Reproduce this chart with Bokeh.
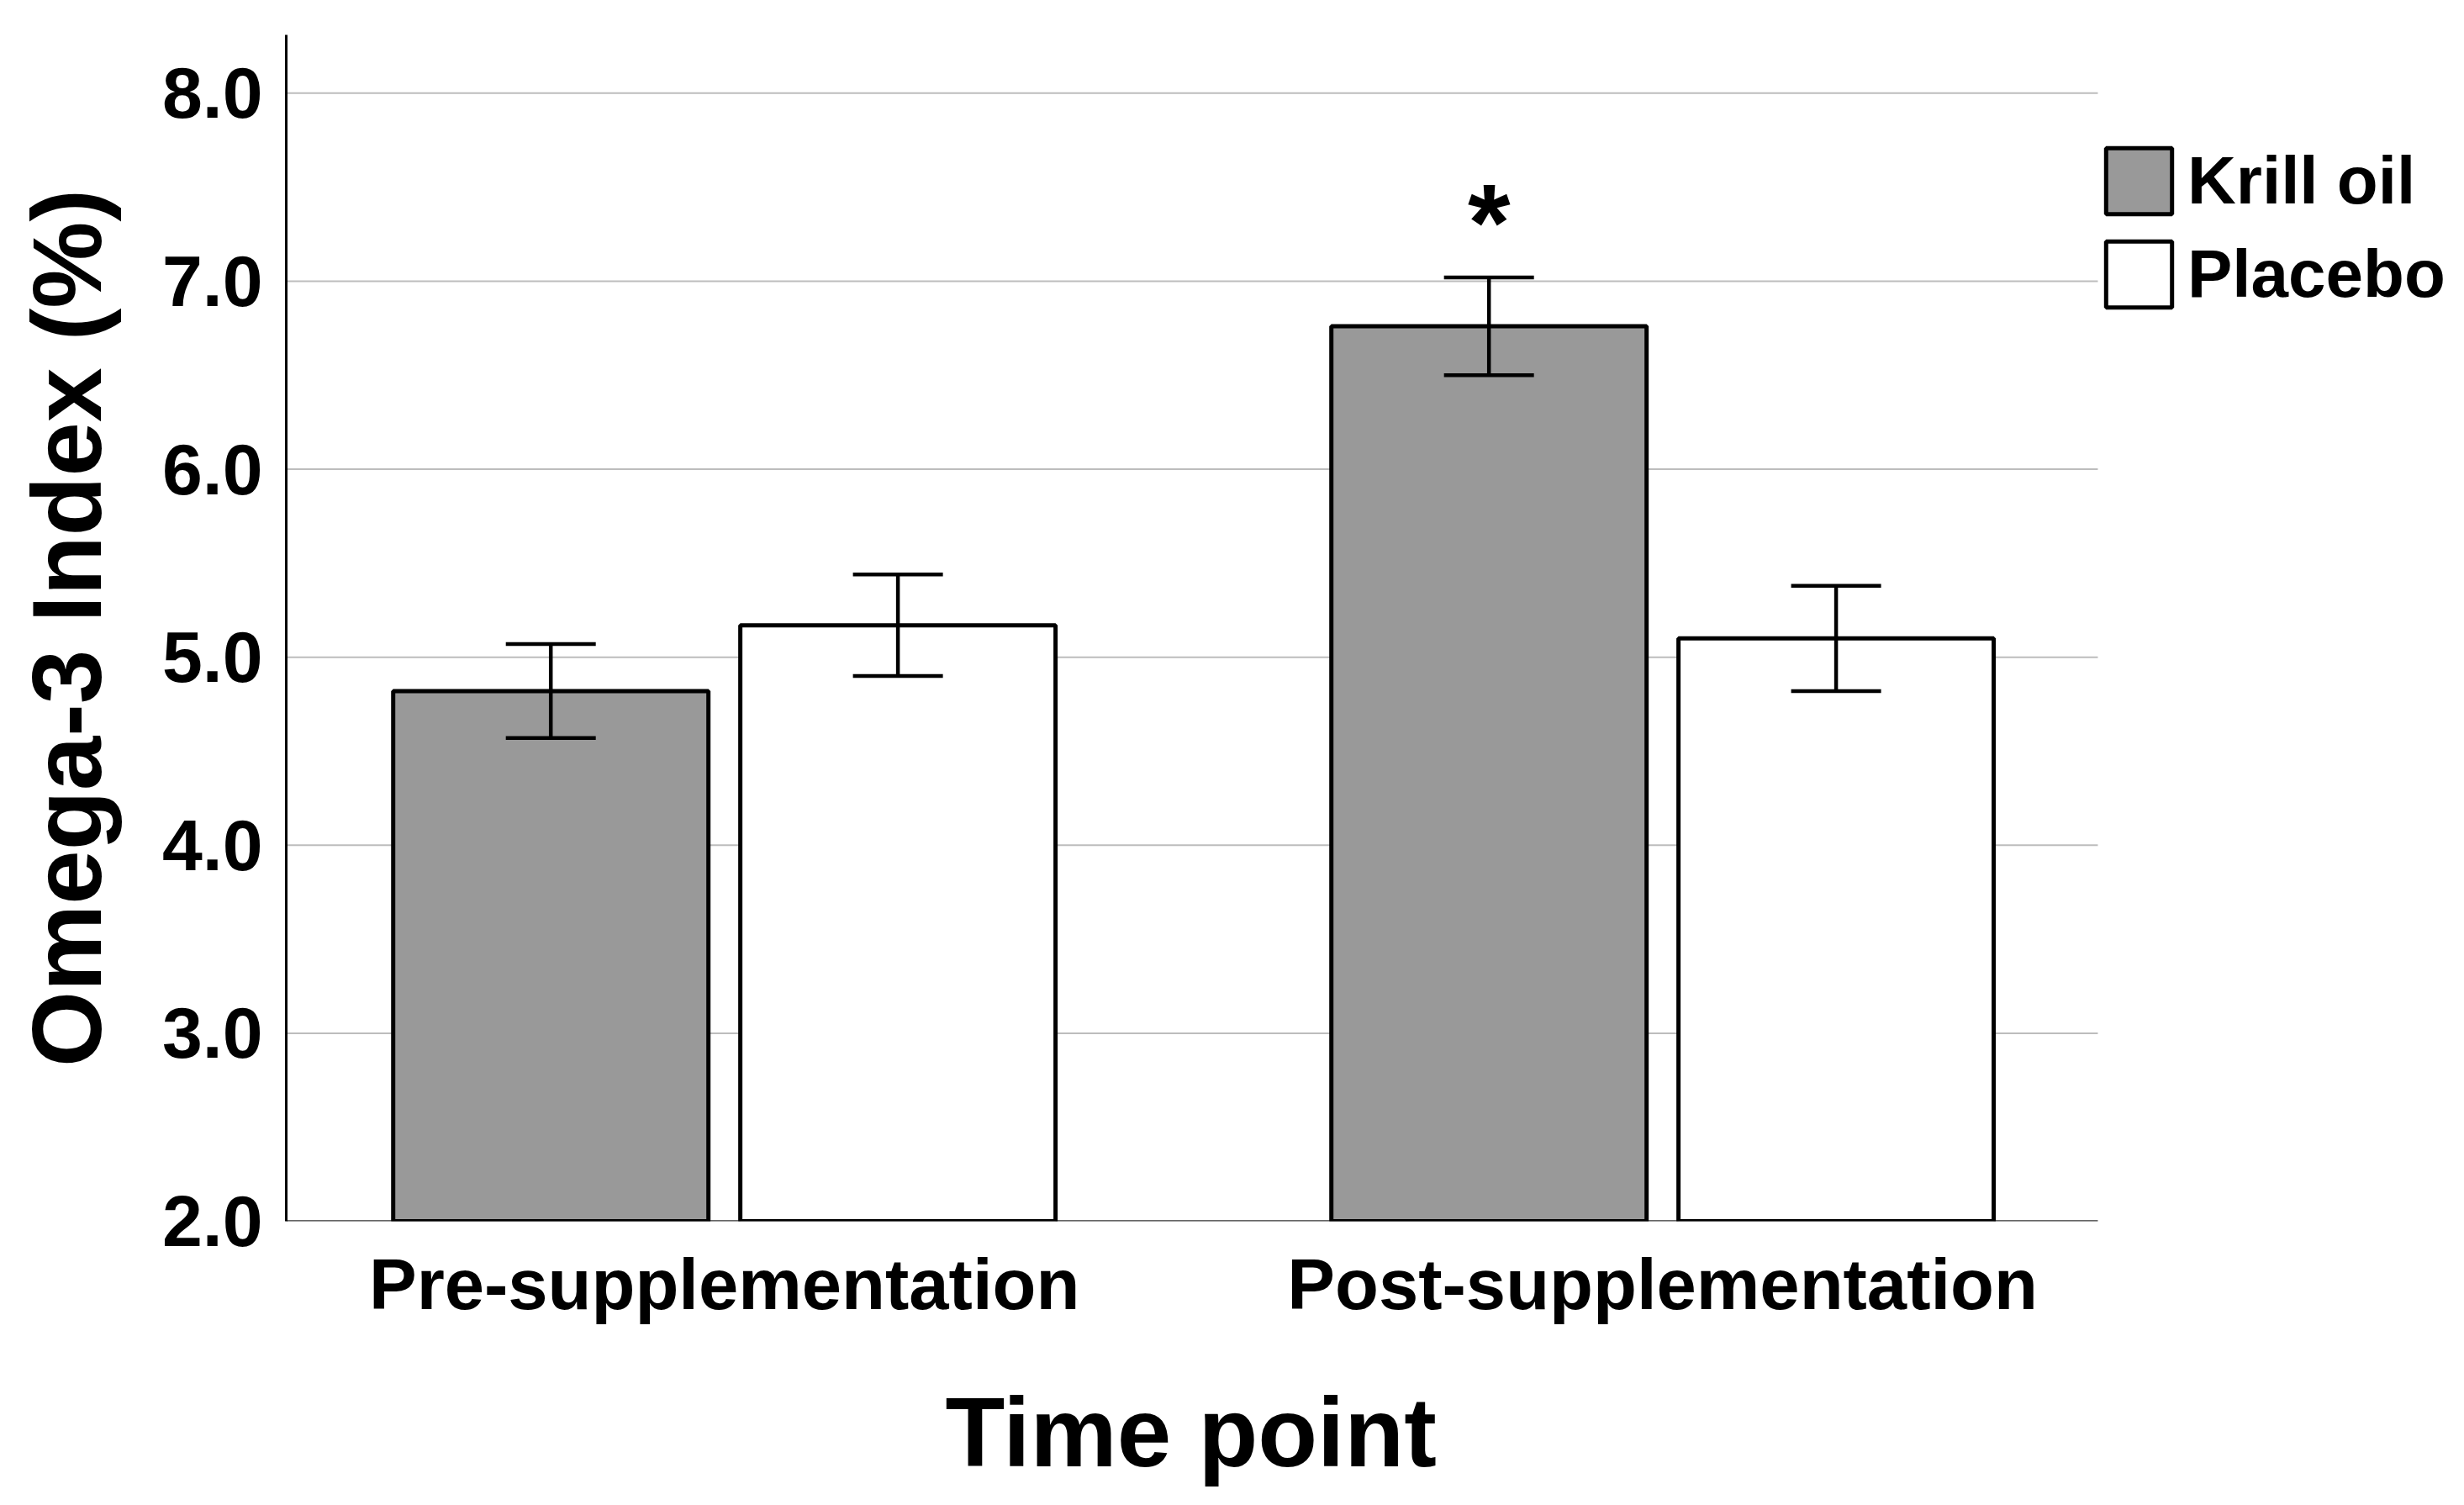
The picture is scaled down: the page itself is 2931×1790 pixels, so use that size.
from bokeh.plotting import figure
from bokeh.models import (Range1d, FixedTicker, NumeralTickFormatter, ColumnDataSource,
                          Whisker, TeeHead, Legend, LegendItem, Title)
from bokeh.transform import dodge
from bokeh.core.properties import value
from bokeh.embed import file_html
from bokeh.resources import INLINE

# ---- data ----
time_points = ["Pre-supplementation", "Post-supplementation"]
groups = ["Krill oil", "Placebo"]
krill_mean = [4.82, 6.76]
krill_sem = [0.25, 0.26]
placebo_mean = [5.17, 5.10]
placebo_sem = [0.27, 0.28]
significance = ["", "*"]
y_ticks = [2.0, 3.0, 4.0, 5.0, 6.0, 7.0, 8.0]
x_label = "Time point"
y_label = "Omega-3 Index (%)"

FONT = "Liberation Sans"
pos = list(range(len(time_points)))

# plotting area in x (group index units); the frame continues to the right for the legend
x_start, x_end, x_frame_end = -0.467, 1.464, 1.8404
y_start, y_end = 2.0, 8.31

src_k = ColumnDataSource(dict(
    x=pos, top=krill_mean,
    upper=[m + s for m, s in zip(krill_mean, krill_sem)],
    lower=[m - s for m, s in zip(krill_mean, krill_sem)],
    sig=significance))
src_p = ColumnDataSource(dict(
    x=pos, top=placebo_mean,
    upper=[m + s for m, s in zip(placebo_mean, placebo_sem)],
    lower=[m - s for m, s in zip(placebo_mean, placebo_sem)]))

p = figure(width=2915, height=1774, output_backend="svg", toolbar_location=None,
           x_range=Range1d(x_start, x_frame_end), y_range=Range1d(y_start, y_end),
           min_border_left=340, min_border_right=0, min_border_top=41,
           min_border_bottom=322)
p.outline_line_color = None
p.background_fill_color = "white"
p.border_fill_color = "white"

# grid lines only across the plotting area
p.xgrid.visible = False
p.ygrid.visible = False
grid_y = [t for t in y_ticks if t > y_start]
p.segment(x0=[x_start] * len(grid_y), x1=[x_end] * len(grid_y), y0=grid_y, y1=grid_y,
          line_color="#bdbdbd", line_width=2, level="underlay")
# x baseline
p.segment(x0=[x_start], x1=[x_end], y0=[y_start], y1=[y_start],
          line_color="#333333", line_width=2.5, level="underlay")

p.yaxis.ticker = FixedTicker(ticks=y_ticks)
p.yaxis.formatter = NumeralTickFormatter(format="0.0")
p.xaxis.ticker = FixedTicker(ticks=pos)
p.xaxis.major_label_overrides = {i: t for i, t in enumerate(time_points)}

for ax in (p.xaxis, p.yaxis):
    ax.major_tick_line_color = None
    ax.minor_tick_line_color = None
    ax.major_tick_out = 0
    ax.major_tick_in = 0
    ax.minor_tick_out = 0
    ax.major_label_text_font = FONT
    ax.major_label_text_font_style = "bold"
    ax.major_label_text_color = "black"

p.yaxis.major_label_text_font_size = "86px"
p.xaxis.major_label_text_font_size = "85px"
p.yaxis.axis_label = y_label
p.yaxis.axis_label_text_font = FONT
p.yaxis.axis_label_text_font_style = "bold"
p.yaxis.axis_label_text_font_size = "116px"
p.yaxis.axis_label_text_color = "black"
p.yaxis.axis_line_color = "black"
p.yaxis.axis_line_width = 3
p.xaxis.axis_line_color = None
p.yaxis.major_label_standoff = 28
p.xaxis.major_label_standoff = 27
p.yaxis.axis_label_standoff = 45
# blank spacer label under the category labels, pushes the title down
p.xaxis.axis_label = " "
p.xaxis.axis_label_text_font_size = "1px"
p.xaxis.axis_label_standoff = 55

# x axis title, centred under the plotting area
p.add_layout(Title(text=x_label, align="left", offset=784, standoff=0,
                   text_font=FONT, text_font_style="bold", text_font_size="116px",
                   text_color="black"), "below")

off = 0.185
bw = 0.336
rk = p.vbar(x=dodge("x", -off, range=p.x_range), top="top", bottom=y_start, width=bw,
            source=src_k, fill_color="#999999", line_color="black", line_width=5)
rp = p.vbar(x=dodge("x", off, range=p.x_range), top="top", bottom=y_start, width=bw,
            source=src_p, fill_color="white", line_color="black", line_width=5)

for src, o in ((src_k, -off), (src_p, off)):
    w = Whisker(base=dodge("x", o, range=p.x_range), upper="upper", lower="lower",
                source=src, line_color="black", line_width=4.5, level="annotation",
                upper_head=TeeHead(size=107, line_width=4.5, line_color="black"),
                lower_head=TeeHead(size=107, line_width=4.5, line_color="black"))
    p.add_layout(w)

p.text(x=dodge("x", -off, range=p.x_range), y="upper", text="sig", source=src_k,
       text_align="center", text_baseline="alphabetic", y_offset=-65,
       text_font=value(FONT), text_font_style="bold", text_font_size="130px",
       text_color="black")

legend = Legend(items=[LegendItem(label=groups[0], renderers=[rk]),
                       LegendItem(label=groups[1], renderers=[rp])],
                location=(2155, 1071), glyph_width=98, glyph_height=98,
                label_height=111, label_standoff=9, spacing=0, padding=0, margin=0,
                border_line_color=None, background_fill_alpha=0,
                label_text_font=FONT, label_text_font_style="bold",
                label_text_font_size="80px", label_text_color="black")
p.add_layout(legend)

open("out.html", "w").write(file_html(p, INLINE))
